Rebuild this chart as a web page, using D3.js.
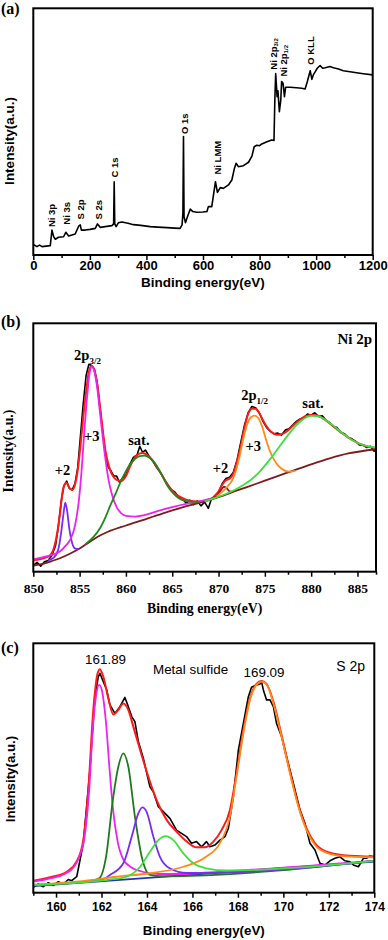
<!DOCTYPE html>
<html>
<head>
<meta charset="utf-8">
<script src="https://cdn.jsdelivr.net/npm/d3@7"></script>
<style>
  body { margin: 0; background: #fff; }
</style>
</head>
<body>
<svg id="fig" width="388" height="940"></svg>
<script>
// ---------- (a) survey ----------
const surveyTicks = [0, 200, 400, 600, 800, 1000, 1200]
const surveyMinor = [100, 300, 500, 700, 900, 1100]
// [binding energy eV, intensity % of frame height]
const survey = [[0,4.3],[13,3.4],[22,4.0],[31,3.4],[60,3.8],[66,10.1],[72,7.4],[78,6.4],[89,7.2],[107,7.4],[115,9.2],[125,7.7],[148,8.5],[161,11.8],[166,12.2],[170,10.1],[184,10.1],[201,10.4],[219,10.8],[227,12.6],[237,11.2],[254,11.5],[278,11.9],[284,12.6],[286,29.7],[288,12.6],[293,11.5],[301,13.1],[313,13.4],[335,12.9],[354,12.3],[380,12.0],[413,11.5],[440,11.3],[472,11.1],[500,10.9],[519,10.8],[526,12.2],[529,16.9],[531,48.0],[533,15.5],[538,13.1],[545,15.5],[555,18.6],[564,17.6],[578,17.3],[600,17.4],[614,17.6],[619,19.6],[631,19.6],[637,24.3],[644,29.7],[651,25.4],[661,27.3],[672,27.0],[690,28.4],[702,30.4],[711,35.1],[717,37.2],[725,35.8],[743,36.2],[761,37.6],[773,40.1],[781,43.9],[790,44.5],[800,44.3],[808,45.0],[826,45.9],[843,46.6],[851,46.4],[854,62.8],[857,73.6],[862,64.2],[865,66.6],[870,58.1],[875,62.8],[878,70.3],[883,69.6],[888,64.2],[892,68.0],[908,68.0],[931,67.8],[949,67.6],[961,67.3],[969,70.3],[979,74.7],[985,71.2],[990,73.0],[997,74.3],[1004,75.7],[1014,76.8],[1023,75.7],[1032,75.9],[1049,76.4],[1061,75.9],[1079,75.4],[1096,74.7],[1120,74.3],[1143,73.9],[1167,73.5],[1200,73.0]]
// peak labels: [text, subscript, energy, intensity where text starts]
const surveyLabels = [
  ['Ni 3p', '', 66, 10.5], ['Ni 3s', '', 117, 11.5], ['S 2p', '', 167, 13.6], ['S 2s', '', 229, 13.6],
  ['C 1s', '', 287, 30.6], ['O 1s', '', 533, 48.2], ['Ni LMM', '', 650, 31.8],
  ['Ni 2p', '3/2', 851, 74.3], ['Ni 2p', '1/2', 883, 71.5], ['O KLL', '', 979, 76.3]
]

// ---------- (b) Ni 2p ----------
const niTicks = [850, 855, 860, 865, 870, 875, 880, 885]
const niMinor = [852.5, 857.5, 862.5, 867.5, 872.5, 877.5, 882.5, 887]
const niRaw = [[850.0,2.5],[850.4,3.8],[850.8,2.2],[851.2,4.0],[851.6,4.5],[852.0,6.5],[852.4,10.5],[852.7,18],[853.0,28],[853.3,34.5],[853.6,36.5],[853.9,33.5],[854.2,33.0],[854.5,35.5],[854.8,42],[855.1,55],[855.4,68],[855.7,79],[856.0,83.5],[856.3,83],[856.6,81.5],[856.9,76],[857.2,66],[857.5,56],[857.8,47],[858.1,42],[858.4,40.5],[858.7,38.5],[859.0,38.5],[859.3,36],[859.6,37.5],[860.0,39],[860.4,43],[860.8,46],[861.2,47],[861.5,50.5],[861.8,48],[862.1,49],[862.5,46.5],[862.9,44.5],[863.3,42],[863.7,40],[864.1,37.5],[864.5,35],[864.9,33],[865.3,32],[865.7,30],[866.1,29.5],[866.5,27.5],[866.9,28.8],[867.3,27],[867.7,28.5],[868.1,26.5],[868.5,28],[868.9,25.5],[869.2,29],[869.6,30],[870.0,32],[870.4,35.5],[870.8,37.5],[871.2,38],[871.6,40],[872.0,45],[872.4,52],[872.8,59],[873.2,64],[873.6,66.5],[874.0,66],[874.4,64],[874.8,60.5],[875.2,58],[875.6,56.5],[876.0,55.5],[876.4,55.8],[876.8,55],[877.2,57],[877.6,57.5],[878.0,59],[878.4,60.5],[878.8,61.5],[879.2,62],[879.6,63.5],[880.0,63],[880.4,64],[880.8,62.5],[881.2,62.8],[881.6,61],[882.0,60],[882.4,58.5],[882.8,58],[883.2,56],[883.6,55.5],[884.0,54],[884.4,53.5],[884.8,52.5],[885.2,51],[885.6,51],[886.0,50],[886.4,50.5],[886.8,48.5],[887.0,49.5]]
const niEnvelope = [[850,4.6],[851,5.3],[851.8,6.5],[852.3,10.5],[852.6,16],[852.9,24],[853.2,33],[853.55,35.8],[853.9,33.8],[854.2,32.9],[854.5,35],[854.8,41],[855.1,51],[855.4,62.5],[855.7,72.5],[856.0,80.5],[856.3,82.8],[856.6,81],[856.9,75.5],[857.2,66.5],[857.5,57],[857.8,48.5],[858.2,42],[858.6,38.5],[859,37],[859.5,36.5],[860,38.5],[860.4,42],[860.8,45],[861.3,47.2],[861.8,47.8],[862.3,47],[862.8,45.2],[863.3,42.5],[863.8,39.5],[864.3,36.3],[864.8,33.5],[865.3,31.5],[865.8,30.2],[866.5,29],[867.3,28.4],[868,28.3],[868.8,28.8],[869.4,29.9],[869.9,31.8],[870.4,35],[870.8,36.8],[871.2,37.5],[871.6,39.5],[872,44.5],[872.4,50.5],[872.8,58],[873.2,63.5],[873.6,65.6],[874.0,65.6],[874.4,63.8],[874.8,61],[875.2,58.4],[875.7,56.2],[876.3,55.1],[876.8,55.3],[877.4,56.6],[878,58.7],[878.7,61],[879.3,62.5],[879.9,63.1],[880.5,63],[881.1,62.1],[881.8,60.3],[882.5,58.2],[883.2,56.2],[884,54.1],[884.8,52.3],[885.6,51],[886.3,50.2],[887,49.8]]
const niBackground = [[850,2.5],[851,3.2],[852,4.3],[853,5.6],[854,7.3],[855,9.3],[856,11.8],[857,14.2],[858,16.0],[860,18.6],[862,21.0],[864,23.5],[866,25.8],[868,27.8],[870,30.0],[872,32.7],[874,35.3],[876,38.0],[878,40.6],[880,43.2],[882,45.6],[884,47.6],[887,49.3]]
const ni2p3Plus2 = [[851.6,4.6],[852.2,5.6],[852.7,9],[853.0,15.5],[853.25,23],[853.45,27.8],[853.65,24.5],[853.9,17],[854.2,11.5],[854.5,9.4],[854.9,9.1]]
const ni2p3Plus3 = [[850,5.0],[851,5.8],[852,6.8],[852.9,8.2],[853.5,10.5],[854,13],[854.5,18.5],[854.9,28],[855.2,40],[855.5,56],[855.8,70],[856.1,80.5],[856.35,82.8],[856.6,80.5],[856.9,74],[857.2,64],[857.5,54],[857.8,45],[858.1,37.5],[858.5,31],[859,26],[859.5,23.5],[860,22.5],[861,22.2],[862,22.8],[863.5,24.5],[865,26],[866.5,27.3],[868,28.3],[869,29.3]]
const ni2p3Sat = [[855.6,11.0],[856.5,14],[857.2,17.5],[857.8,22],[858.3,26.5],[858.9,31.5],[859.4,36],[860,40.5],[860.5,43.5],[861,45.5],[861.5,46.5],[862,46.7],[862.5,46],[863,44.3],[863.5,41.5],[864,38],[864.5,34.5],[865,32],[865.5,30.2],[866,29],[866.8,28.3],[868,28.0]]
const ni2p1Plus2 = [[869.3,29.5],[869.8,30.5],[870.2,32.5],[870.6,34.2],[870.9,33.5],[871.2,32.3],[871.6,32.2]]
const ni2p1Plus3 = [[869.8,30.3],[870.5,32.5],[871,34.5],[871.5,37],[871.9,41],[872.3,47],[872.7,54],[873.1,59.5],[873.5,62.2],[873.9,62.8],[874.3,61.8],[874.7,58.5],[875.1,53.5],[875.5,49],[876,45],[876.5,42.5],[877,41],[877.6,40.3],[878.3,40.6]]
const ni2p1Sat = [[868.5,28.3],[870,30.2],[871.5,32.5],[872.5,34.5],[873.5,37],[874.5,40.5],[875.5,45],[876.5,50],[877.5,55],[878.5,59.3],[879.3,61.8],[880,62.7],[880.7,62.6],[881.5,61.2],[882.4,58.8],[883.3,56],[884.2,53.5],[885,51.8],[886,50.6],[887,50.0]]
// [text, subscript, energy, intensity of baseline]
const niLabels = [
  ['2p', '3/2', 855.85, 85.1], ['+3', '', 856.3, 52.6], ['sat.', '', 861.4, 51.0], ['+2', '', 853.15, 39.0],
  ['+2', '', 870.2, 39.8], ['2p', '1/2', 873.9, 69.1], ['+3', '', 873.75, 48.6], ['sat.', '', 880.2, 65.9]
]

// ---------- (c) S 2p ----------
const sTicks = [160, 162, 164, 166, 168, 170, 172, 174]
const sMinor = [159, 161, 163, 165, 167, 169, 171, 173]
const sRaw = [[159.0,2.1],[159.22,3.5],[159.44,2.4],[159.66,4.0],[159.88,2.9],[160.1,4.4],[160.32,3.5],[160.54,5.3],[160.69,4.8],[160.91,6.4],[161.2,19.8],[161.49,49.2],[161.71,78.6],[161.86,86.6],[161.93,88.0],[162.08,84.6],[162.23,81.3],[162.37,75.3],[162.59,71.9],[162.81,74.6],[163.03,78.3],[163.18,74.6],[163.33,70.6],[163.47,68.6],[163.62,60.6],[163.84,53.9],[164.13,42.5],[164.28,40.5],[164.5,34.5],[164.72,32.5],[165.01,29.8],[165.3,25.1],[165.74,22.5],[165.96,19.8],[166.18,20.5],[166.4,18.4],[166.62,20.5],[166.77,18.4],[166.99,19.1],[167.21,21.1],[167.43,22.5],[167.58,25.8],[167.8,38.5],[168.02,57.2],[168.24,67.9],[168.46,78.6],[168.6,82.4],[168.82,83.3],[168.97,83.7],[169.04,84.6],[169.12,81.3],[169.26,77.3],[169.41,77.3],[169.56,74.6],[169.7,67.9],[169.92,62.6],[170.14,54.5],[170.44,43.9],[170.73,33.2],[170.95,27.8],[171.17,19.8],[171.39,17.1],[171.61,11.8],[171.83,11.1],[172.05,12.8],[172.27,13.8],[172.49,14.4],[172.71,12.8],[172.93,12.4],[173.08,11.1],[173.3,10.4],[173.52,13.8],[173.66,13.8],[173.81,14.7],[174.0,14.4]]
const sEnvelope = [[159,4.8],[159.8,6.3],[160.47,8.4],[160.9,12.4],[161.2,21.1],[161.42,41.2],[161.64,73.3],[161.83,88.0],[161.93,89.6],[162.08,86.6],[162.3,77.9],[162.52,71.5],[162.74,73.3],[162.96,75.9],[163.18,73.3],[163.4,66.6],[163.7,57.2],[164.06,46.5],[164.42,37.2],[164.87,29.1],[165.3,24.5],[165.75,20.5],[166.18,18.2],[166.55,18.2],[166.92,20.5],[167.28,25.1],[167.65,33.2],[167.94,47.9],[168.24,65.2],[168.53,77.9],[168.82,83.7],[169.04,84.9],[169.26,83.7],[169.56,76.6],[169.92,63.2],[170.29,48.5],[170.66,35.2],[171.02,25.8],[171.39,19.8],[171.9,16.4],[172.64,15.0],[174,14.4]]
const sBackground = [[159,2.6],[174,12.5]]
const sPeak1 = [[159,4.4],[159.8,5.8],[160.4,7.6],[160.8,10.5],[161.05,15],[161.25,22],[161.45,40],[161.62,66],[161.78,80],[161.9,83.3],[162.02,81],[162.2,68],[162.35,50],[162.5,34],[162.7,21],[162.95,13.5],[163.3,10.2],[163.8,8.4],[164.5,7.5],[165.5,7.5],[166.5,8.0],[174,12.8]]
const sPeak2 = [[159,3.0],[161.5,4.7],[161.9,5.8],[162.2,14.4],[162.5,37.2],[162.74,50.5],[162.96,55.9],[163.18,50.5],[163.47,30.5],[163.77,14.4],[164.13,7.1],[164.6,6.6],[174,12.8]]
const sPeak3 = [[159,3.0],[162,5.2],[162.37,7.1],[162.96,11.8],[163.33,22.5],[163.62,31.8],[163.8,34.2],[163.98,32.5],[164.28,22.5],[164.57,14.4],[165.0,9.8],[165.75,7.9],[166.5,7.9],[174,12.8]]
const sPeak4 = [[159,3.0],[162.5,5.4],[163.1,6.4],[163.7,10.4],[164.13,16.4],[164.5,21.1],[164.82,22.7],[165.16,21.1],[165.6,15.8],[166.04,11.8],[166.6,9.8],[167.5,8.9],[174,12.8]]
const sPeak5 = [[159,3.2],[161,4.5],[162.67,6.4],[164.13,7.8],[165.6,10.4],[166.6,14.4],[167.2,19.8],[167.65,30.5],[167.94,46.5],[168.24,63.9],[168.53,77.3],[168.82,83.3],[169.06,84.6],[169.3,83.0],[169.56,75.9],[169.92,62.6],[170.29,47.9],[170.66,34.5],[171.02,25.1],[171.39,19.1],[171.9,16],[172.64,14.7],[174,14.2]]
const sLabels = [['161.89', 162.18, 91.7], ['Metal sulfide', 165.92, 87.7], ['169.09', 169.15, 86.5]]

// ---------- drawing ----------
const fig = d3.select('#fig')
const ARIAL = '"Liberation Sans", Arial, sans-serif'
const TIMES = '"Liberation Serif", "Times New Roman", serif'

function drawPanel(p) {
  const g = fig.append('g')
  const x = d3.scaleLinear().domain(p.xDomain).range([p.left, p.right])
  const y = d3.scaleLinear().domain([0, 100]).range([p.bottom, p.top])

  g.append('clipPath').attr('id', 'clip-' + p.id)
    .append('rect')
    .attr('x', p.left).attr('y', p.top)
    .attr('width', p.right - p.left).attr('height', p.bottom - p.top)
  const plot = g.append('g').attr('clip-path', `url(#clip-${p.id})`)

  p.series.forEach(s => {
    const line = d3.line()
      .x(d => x(d[0]))
      .y(d => y(d[1]))
      .curve(s.curve || d3.curveMonotoneX)
    plot.append('path')
      .datum(s.data)
      .attr('d', line)
      .attr('fill', 'none')
      .attr('stroke', s.color)
      .attr('stroke-width', s.width || 1.8)
      .attr('stroke-linejoin', 'round')
  })

  // minor ticks
  g.append('g')
    .attr('transform', `translate(0,${p.bottom})`)
    .call(d3.axisBottom(x).tickValues(p.minor).tickSize(3).tickSizeOuter(0).tickFormat(''))
    .call(a => a.select('.domain').remove())
  // major ticks
  const ax = g.append('g')
    .attr('transform', `translate(0,${p.bottom})`)
    .call(d3.axisBottom(x).tickValues(p.ticks).tickSize(5).tickSizeOuter(0).tickFormat(d3.format('d')))
    .call(a => a.select('.domain').remove())
  g.selectAll('.tick line').attr('stroke', '#000').attr('stroke-width', 1.5)
  ax.selectAll('.tick text')
    .attr('y', p.tickBase - p.bottom).attr('dy', 0)
    .style('font-family', p.font).style('font-weight', 'bold').style('font-size', p.tickSize + 'px')
    .attr('fill', '#000')

  // frame
  g.append('rect')
    .attr('x', p.left).attr('y', p.top)
    .attr('width', p.right - p.left).attr('height', p.bottom - p.top)
    .attr('fill', 'none').attr('stroke', '#000').attr('stroke-width', 2)

  // axis titles
  g.append('text')
    .attr('x', (p.left + p.right) / 2).attr('y', p.titleBase)
    .attr('text-anchor', 'middle')
    .style('font-family', p.font).style('font-weight', 'bold').style('font-size', p.titleSize + 'px')
    .text('Binding energy(eV)')
  g.append('text')
    .attr('transform', `translate(${p.yLabelX},${p.yLabelY}) rotate(-90)`)
    .attr('text-anchor', 'middle')
    .attr('dominant-baseline', 'central')
    .style('font-family', p.font).style('font-weight', 'bold').style('font-size', p.titleSize + 'px')
    .text('Intensity(a.u.)')

  // panel letter
  g.append('text')
    .attr('x', 1).attr('y', p.letterBase)
    .style('font-family', TIMES).style('font-weight', 'bold').style('font-size', '16px')
    .text(p.letter)

  return { g, x, y }
}

// (a)
const a = drawPanel({
  id: 'a', letter: '(a)', letterBase: 14,
  xDomain: [0, 1200], left: 33.3, right: 372.7, top: 8.3, bottom: 255,
  ticks: surveyTicks, minor: surveyMinor, tickBase: 270, tickSize: 13,
  font: ARIAL, titleBase: 287, titleSize: 13.5, yLabelX: 9.3, yLabelY: 141,
  series: [{ data: survey, color: '#000', width: 1.6, curve: d3.curveLinear }]
})
surveyLabels.forEach(([t, sub, e, v]) => {
  const txt = a.g.append('text')
    .attr('transform', `translate(${a.x(e)},${a.y(v) - 2}) rotate(-90)`)
    .attr('dominant-baseline', 'central')
    .style('font-family', ARIAL).style('font-weight', 'bold').style('font-size', '9.5px')
    .text(t)
  if (sub) txt.append('tspan').attr('dy', 2.5).style('font-size', '6px').text(sub)
})

// (b)
const b = drawPanel({
  id: 'b', letter: '(b)', letterBase: 327,
  xDomain: [850, 887], left: 33.3, right: 376, top: 323.3, bottom: 571.7,
  ticks: niTicks, minor: niMinor, tickBase: 593, tickSize: 13.5,
  font: TIMES, titleBase: 613, titleSize: 13.8, yLabelX: 8.3, yLabelY: 451,
  series: [
    { data: niRaw, color: '#000', width: 1.6, curve: d3.curveLinear },
    { data: niEnvelope, color: '#ff1a1a', width: 2 },
    { data: niBackground, color: '#7c1c1c' },
    { data: ni2p3Plus2, color: '#7b2cf2' },
    { data: ni2p3Plus3, color: '#ee22ee' },
    { data: ni2p3Sat, color: '#1e8a1e' },
    { data: ni2p1Plus2, color: '#8a1838' },
    { data: ni2p1Plus3, color: '#ff8a1a' },
    { data: ni2p1Sat, color: '#3ee03e' }
  ]
})
niLabels.forEach(([t, sub, e, v]) => {
  const txt = b.g.append('text')
    .attr('x', b.x(e)).attr('y', b.y(v))
    .attr('text-anchor', 'middle')
    .style('font-family', TIMES).style('font-weight', 'bold').style('font-size', '14.5px')
    .text(t)
  if (sub) txt.append('tspan').attr('dy', 3.5).style('font-size', '9px').text(sub)
})
b.g.append('text')
  .attr('x', 372).attr('y', 344).attr('text-anchor', 'end')
  .style('font-family', TIMES).style('font-weight', 'bold').style('font-size', '15px')
  .text('Ni 2p')

// (c)
const c = drawPanel({
  id: 'c', letter: '(c)', letterBase: 653,
  xDomain: [159, 174], left: 33.3, right: 374.3, top: 643.3, bottom: 892.7,
  ticks: sTicks, minor: sMinor, tickBase: 911.5, tickSize: 12,
  font: ARIAL, titleBase: 935, titleSize: 13.3, yLabelX: 10.8, yLabelY: 779,
  series: [
    { data: sRaw, color: '#000', width: 1.6, curve: d3.curveLinear },
    { data: sEnvelope, color: '#ff1a1a', width: 2 },
    { data: sBackground, color: '#2233bb', curve: d3.curveLinear },
    { data: sPeak1, color: '#ee22ee' },
    { data: sPeak2, color: '#1e7a1e' },
    { data: sPeak3, color: '#7b2cf2' },
    { data: sPeak5, color: '#ff8a1a' },
    { data: sPeak4, color: '#3ee03e' }
  ]
})
sLabels.forEach(([t, e, v]) => {
  c.g.append('text')
    .attr('x', c.x(e)).attr('y', c.y(v))
    .attr('text-anchor', 'middle')
    .style('font-family', ARIAL).style('font-size', '13.4px')
    .text(t)
})
c.g.append('text')
  .attr('x', 365).attr('y', 671).attr('text-anchor', 'end')
  .style('font-family', ARIAL).style('font-size', '14px')
  .text('S 2p')
</script>
</body>
</html>
